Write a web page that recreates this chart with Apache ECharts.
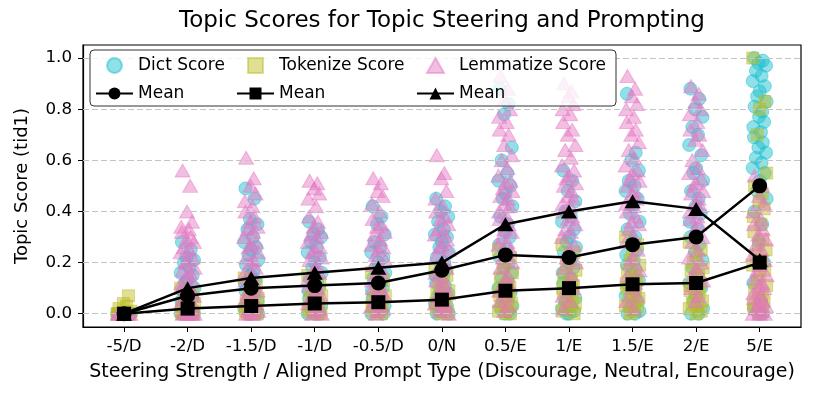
<!DOCTYPE html>
<html>
<head>
<meta charset="utf-8">
<script src="https://cdn.jsdelivr.net/npm/echarts@6/dist/echarts.min.js"></script>
<style>
  html, body { margin: 0; padding: 0; background: #fff; }
  #chart { width: 815px; height: 397px; }
</style>
</head>
<body>
<div id="chart"></div>
<script>
// categories and tick labels
var cats = ['-5/D', '-2/D', '-1.5/D', '-1/D', '-0.5/D', '0/N', '0.5/E', '1/E', '1.5/E', '2/E', '5/E'];
var yTicks = [0, 0.2, 0.4, 0.6, 0.8, 1.0];

// means
var dictMean = [0, 0.07, 0.10, 0.11, 0.12, 0.17, 0.23, 0.22, 0.27, 0.30, 0.50];
var tokMean  = [0, 0.02, 0.03, 0.04, 0.045, 0.055, 0.09, 0.10, 0.115, 0.12, 0.20];
var lemMean  = [0, 0.10, 0.14, 0.16, 0.18, 0.20, 0.35, 0.40, 0.44, 0.41, 0.21];

// individual scores per category
var dictScores = [
    [0, 0, 0, 0, 0, 0, 0, 0, 0, 0, 0, 0],
    [0.28, 0.25, 0.22, 0.21, 0.20, 0.18, 0.16, 0.15, 0.13, 0.12, 0.10, 0.09, 0.08, 0.07, 0.06, 0.05, 0.04, 0.03, 0.02, 0.01, 0, 0, 0, 0, 0],
    [0.49, 0.45, 0.37, 0.35, 0.33, 0.30, 0.28, 0.26, 0.25, 0.23, 0.21, 0.19, 0.17, 0.15, 0.13, 0.12, 0.10, 0.09, 0.08, 0.06, 0.05, 0.04, 0.03, 0.02, 0.01, 0, 0, 0],
    [0.36, 0.33, 0.31, 0.30, 0.28, 0.26, 0.24, 0.22, 0.20, 0.18, 0.16, 0.14, 0.13, 0.11, 0.10, 0.09, 0.08, 0.06, 0.05, 0.04, 0.03, 0.02, 0.01, 0, 0, 0],
    [0.42, 0.38, 0.35, 0.31, 0.28, 0.26, 0.24, 0.22, 0.20, 0.18, 0.16, 0.14, 0.12, 0.11, 0.10, 0.09, 0.08, 0.06, 0.05, 0.04, 0.03, 0.02, 0.01, 0, 0],
    [0.45, 0.42, 0.40, 0.38, 0.36, 0.33, 0.31, 0.30, 0.28, 0.26, 0.24, 0.22, 0.20, 0.19, 0.17, 0.15, 0.14, 0.12, 0.11, 0.09, 0.08, 0.07, 0.05, 0.04, 0.03, 0.02, 0.01, 0, 0],
    [0.88, 0.82, 0.78, 0.65, 0.60, 0.55, 0.52, 0.50, 0.47, 0.45, 0.42, 0.38, 0.35, 0.32, 0.30, 0.27, 0.25, 0.22, 0.20, 0.18, 0.16, 0.14, 0.12, 0.10, 0.08, 0.06, 0.05, 0.03, 0.02, 0.01, 0, 0],
    [0.56, 0.52, 0.48, 0.44, 0.40, 0.38, 0.36, 0.33, 0.30, 0.28, 0.26, 0.24, 0.22, 0.20, 0.18, 0.16, 0.14, 0.12, 0.10, 0.08, 0.06, 0.05, 0.03, 0.02, 0.01, 0, 0],
    [0.86, 0.63, 0.60, 0.56, 0.52, 0.50, 0.48, 0.45, 0.42, 0.39, 0.36, 0.33, 0.30, 0.28, 0.25, 0.23, 0.21, 0.19, 0.17, 0.15, 0.13, 0.11, 0.09, 0.07, 0.05, 0.04, 0.02, 0.01, 0, 0],
    [0.88, 0.84, 0.80, 0.77, 0.73, 0.70, 0.66, 0.62, 0.57, 0.55, 0.52, 0.48, 0.45, 0.42, 0.39, 0.36, 0.33, 0.30, 0.27, 0.24, 0.21, 0.18, 0.15, 0.12, 0.10, 0.07, 0.05, 0.02, 0, 0],
    [1.0, 0.99, 0.98, 0.97, 0.95, 0.93, 0.91, 0.89, 0.87, 0.85, 0.83, 0.81, 0.79, 0.77, 0.75, 0.73, 0.71, 0.69, 0.67, 0.65, 0.63, 0.61, 0.59, 0.57, 0.55, 0.52, 0.48, 0.45, 0.40, 0.35, 0.28, 0.20, 0.12, 0.05, 0.02, 0, 0]
];
var tokScores = [
    [0, 0, 0, 0, 0.01, 0.02, 0.03, 0.04, 0.07, 0, 0, 0],
    [0.10, 0.08, 0.06, 0.05, 0.04, 0.03, 0.02, 0.02, 0.01, 0.01, 0, 0, 0, 0, 0, 0],
    [0.14, 0.11, 0.09, 0.07, 0.06, 0.05, 0.04, 0.03, 0.02, 0.02, 0.01, 0.01, 0, 0, 0, 0],
    [0.15, 0.12, 0.10, 0.08, 0.07, 0.06, 0.05, 0.04, 0.03, 0.02, 0.02, 0.01, 0, 0, 0],
    [0.16, 0.13, 0.11, 0.09, 0.07, 0.06, 0.05, 0.04, 0.03, 0.03, 0.02, 0.01, 0, 0],
    [0.17, 0.15, 0.13, 0.11, 0.09, 0.08, 0.07, 0.06, 0.05, 0.04, 0.03, 0.02, 0.01, 0, 0],
    [0.25, 0.22, 0.20, 0.18, 0.16, 0.14, 0.12, 0.11, 0.10, 0.09, 0.08, 0.07, 0.06, 0.05, 0.04, 0.03, 0.02, 0.01, 0, 0],
    [0.27, 0.24, 0.21, 0.19, 0.17, 0.15, 0.13, 0.12, 0.11, 0.10, 0.09, 0.08, 0.07, 0.05, 0.04, 0.03, 0.02, 0.01, 0],
    [0.30, 0.27, 0.24, 0.21, 0.19, 0.17, 0.15, 0.14, 0.13, 0.12, 0.11, 0.10, 0.09, 0.08, 0.06, 0.05, 0.04, 0.03, 0.02, 0.01, 0],
    [0.28, 0.25, 0.23, 0.20, 0.18, 0.17, 0.15, 0.14, 0.12, 0.11, 0.10, 0.09, 0.08, 0.07, 0.05, 0.04, 0.03, 0.02, 0.01, 0],
    [1.0, 0.83, 0.80, 0.70, 0.55, 0.50, 0.47, 0.44, 0.41, 0.38, 0.35, 0.32, 0.29, 0.27, 0.25, 0.23, 0.21, 0.19, 0.17, 0.15, 0.13, 0.11, 0.09, 0.08, 0.06, 0.05, 0.04, 0.03, 0.02, 0.01, 0]
];
var lemScores = [
    [0, 0, 0, 0, 0, 0, 0, 0, 0, 0],
    [0.56, 0.50, 0.40, 0.36, 0.34, 0.33, 0.32, 0.30, 0.29, 0.28, 0.26, 0.25, 0.24, 0.22, 0.21, 0.20, 0.18, 0.17, 0.16, 0.15, 0.13, 0.12, 0.11, 0.10, 0.09, 0.08, 0.07, 0.06, 0.05, 0.04, 0.03, 0.02, 0.01, 0, 0, 0, 0, 0],
    [0.61, 0.53, 0.50, 0.47, 0.44, 0.42, 0.40, 0.38, 0.36, 0.34, 0.33, 0.32, 0.30, 0.28, 0.27, 0.26, 0.24, 0.22, 0.21, 0.20, 0.18, 0.16, 0.15, 0.13, 0.12, 0.10, 0.09, 0.08, 0.06, 0.05, 0.04, 0.03, 0.02, 0.01, 0, 0, 0],
    [0.52, 0.51, 0.49, 0.47, 0.45, 0.42, 0.38, 0.36, 0.34, 0.32, 0.31, 0.30, 0.28, 0.26, 0.25, 0.24, 0.22, 0.21, 0.19, 0.17, 0.16, 0.14, 0.13, 0.11, 0.10, 0.08, 0.07, 0.06, 0.05, 0.04, 0.02, 0.01, 0, 0],
    [0.53, 0.51, 0.48, 0.46, 0.43, 0.40, 0.37, 0.35, 0.34, 0.32, 0.31, 0.29, 0.27, 0.26, 0.25, 0.23, 0.21, 0.19, 0.18, 0.16, 0.15, 0.13, 0.12, 0.10, 0.09, 0.08, 0.07, 0.05, 0.04, 0.03, 0.02, 0.01, 0],
    [0.62, 0.55, 0.53, 0.48, 0.45, 0.42, 0.40, 0.38, 0.37, 0.35, 0.33, 0.32, 0.31, 0.29, 0.27, 0.26, 0.25, 0.23, 0.21, 0.19, 0.18, 0.16, 0.14, 0.13, 0.11, 0.10, 0.08, 0.07, 0.05, 0.04, 0.03, 0.02, 0.01, 0],
    [0.93, 0.88, 0.84, 0.80, 0.77, 0.75, 0.72, 0.70, 0.66, 0.62, 0.60, 0.57, 0.54, 0.52, 0.51, 0.49, 0.48, 0.46, 0.45, 0.43, 0.42, 0.40, 0.38, 0.37, 0.35, 0.33, 0.32, 0.30, 0.28, 0.27, 0.25, 0.23, 0.22, 0.20, 0.18, 0.15, 0.13, 0.11, 0.09, 0.07, 0.05, 0.03, 0.01],
    [0.90, 0.87, 0.85, 0.82, 0.80, 0.78, 0.75, 0.72, 0.70, 0.66, 0.64, 0.61, 0.58, 0.56, 0.54, 0.53, 0.51, 0.50, 0.48, 0.46, 0.45, 0.43, 0.42, 0.40, 0.38, 0.37, 0.35, 0.33, 0.32, 0.30, 0.27, 0.25, 0.22, 0.20, 0.18, 0.15, 0.12, 0.10, 0.07, 0.05, 0.02],
    [0.93, 0.88, 0.85, 0.82, 0.80, 0.77, 0.75, 0.72, 0.70, 0.67, 0.64, 0.61, 0.58, 0.56, 0.55, 0.53, 0.52, 0.50, 0.48, 0.47, 0.45, 0.43, 0.42, 0.40, 0.38, 0.36, 0.35, 0.33, 0.30, 0.28, 0.25, 0.22, 0.20, 0.17, 0.15, 0.12, 0.10, 0.07, 0.05, 0.02],
    [0.89, 0.86, 0.83, 0.80, 0.78, 0.75, 0.72, 0.70, 0.68, 0.64, 0.60, 0.57, 0.55, 0.53, 0.51, 0.50, 0.48, 0.47, 0.45, 0.43, 0.42, 0.40, 0.38, 0.37, 0.35, 0.33, 0.30, 0.28, 0.25, 0.22, 0.20, 0.18, 0.15, 0.13, 0.10, 0.07, 0.05],
    [0.54, 0.50, 0.46, 0.43, 0.40, 0.37, 0.35, 0.33, 0.31, 0.29, 0.27, 0.25, 0.23, 0.21, 0.19, 0.17, 0.15, 0.14, 0.12, 0.11, 0.10, 0.08, 0.07, 0.06, 0.05, 0.04, 0.03, 0.02, 0.01, 0, 0, 0]
];

// horizontal jitter (fraction of a category step)
var jitter = [-0.09, 0.05, -0.02, 0.10, -0.06, 0.03, -0.11, 0.08, 0.00, -0.04, 0.11, -0.08, 0.04, -0.01, 0.07, -0.10, 0.02];

var FONT = 'DejaVu Sans';

function scatterData(scores, shift) {
    var out = [];
    for (var i = 0; i < scores.length; i++) {
        for (var j = 0; j < scores[i].length; j++) {
            out.push([i + jitter[(j + shift) % jitter.length], scores[i][j]]);
        }
    }
    return out;
}
function meanData(means) {
    return means.map(function (v, i) { return [i, v]; });
}

function scatterSeries(name, scores, shift, fill, symbol, size) {
    return {
        name: name,
        type: 'scatter',
        data: scatterData(scores, shift),
        symbol: symbol,
        symbolSize: size,
        itemStyle: { color: fill, borderColor: fill, borderWidth: 1 },
        emphasis: { disabled: true },
        z: 2
    };
}
function meanSeries(name, means, symbol, size) {
    return {
        name: name,
        type: 'line',
        data: meanData(means),
        symbol: symbol,
        symbolSize: size,
        showSymbol: true,
        lineStyle: { color: '#000', width: 2.5 },
        itemStyle: { color: '#000' },
        emphasis: { disabled: true },
        z: 5
    };
}

var chart = echarts.init(document.getElementById('chart'));

var legendText = { fontFamily: FONT, fontSize: 17, color: '#000' };
function meanLabel(n) { return n.indexOf('Mean') >= 0 ? 'Mean' : n; }

var option = {
    animation: false,
    backgroundColor: '#fff',
    textStyle: { fontFamily: FONT, color: '#000' },
    title: {
        text: 'Topic Scores for Topic Steering and Prompting',
        left: 179,
        top: 10,
        padding: 0,
        textStyle: { fontFamily: FONT, fontSize: 23, fontWeight: 'normal', color: '#000' }
    },
    grid: {
        left: 83, right: 14, top: 45, bottom: 70,
        show: true, borderColor: '#000', borderWidth: 1.2,
        containLabel: false
    },
    xAxis: {
        type: 'value',
        min: -0.646,
        max: 10.65,
        name: 'Steering Strength / Aligned Prompt Type (Discourage, Neutral, Encourage)',
        nameLocation: 'middle',
        nameGap: 36,
        nameTextStyle: { fontFamily: FONT, fontSize: 19, color: '#000' },
        axisLine: { show: true, onZero: false, lineStyle: { color: '#000', width: 1.2 } },
        axisTick: { show: true, length: 5, lineStyle: { color: '#000' },
                    customValues: cats.map(function (c, i) { return i; }) },
        axisLabel: { fontFamily: FONT, fontSize: 16.7, color: '#000', margin: 11,
                     customValues: cats.map(function (c, i) { return i; }),
                     formatter: function (v) { return cats[Math.round(v)]; } },
        splitLine: { show: false }
    },
    yAxis: {
        type: 'value',
        min: -0.052,
        max: 1.051,
        name: 'Topic Score (tid1)',
        nameLocation: 'middle',
        nameGap: 52,
        nameTextStyle: { fontFamily: FONT, fontSize: 18, color: '#000' },
        axisLine: { show: true, onZero: false, lineStyle: { color: '#000', width: 1.2 } },
        axisTick: { show: true, length: 5, lineStyle: { color: '#000' }, customValues: yTicks },
        axisLabel: { fontFamily: FONT, fontSize: 16.7, color: '#000', margin: 11,
                     customValues: yTicks,
                     formatter: function (v) { return v.toFixed(1); } },
        splitLine: { show: false }
    },
    graphic: [{
        type: 'rect',
        z: 50,
        shape: { x: 90, y: 50, width: 526, height: 56, r: 4 },
        style: { fill: 'rgba(255,255,255,0.8)', stroke: '#333', lineWidth: 1 }
    }],
    legend: [
        { left: 95, top: 57, orient: 'vertical', itemWidth: 37, itemHeight: 15, itemGap: 11, padding: 0, z: 60,
          textStyle: legendText, formatter: meanLabel,
          data: [{ name: 'Dict Score', icon: 'circle' }, 'Dict Mean'] },
        { left: 236, top: 57, orient: 'vertical', itemWidth: 37, itemHeight: 15, itemGap: 11, padding: 0, z: 60,
          textStyle: legendText, formatter: meanLabel,
          data: [{ name: 'Tokenize Score', icon: 'path://M0,0H10V10H0Z' }, 'Tokenize Mean'] },
        { left: 416, top: 57, orient: 'vertical', itemWidth: 37, itemHeight: 15, itemGap: 11, padding: 0, z: 60,
          textStyle: legendText, formatter: meanLabel,
          data: [{ name: 'Lemmatize Score', icon: 'path://M5,0L10,8.7H0Z' }, 'Lemmatize Mean'] }
    ],
    series: [
        {
            name: 'grid',
            type: 'scatter',
            data: [],
            z: 1,
            markLine: {
                silent: true,
                symbol: 'none',
                label: { show: false },
                lineStyle: { color: '#c4c4c4', type: [6, 3], width: 1 },
                data: yTicks.map(function (v) { return { yAxis: v }; })
            }
        },
        scatterSeries('Dict Score', dictScores, 0, 'rgba(23,190,207,0.6)', 'circle', 13),
        scatterSeries('Tokenize Score', tokScores, 6, 'rgba(188,189,34,0.6)', 'rect', 12),
        scatterSeries('Lemmatize Score', lemScores, 11, 'rgba(227,119,194,0.6)', 'triangle', [15, 13]),
        meanSeries('Dict Mean', dictMean, 'circle', 15),
        meanSeries('Tokenize Mean', tokMean, 'rect', 14),
        meanSeries('Lemmatize Mean', lemMean, 'triangle', [16, 14])
    ]
};

chart.setOption(option);
</script>
</body>
</html>
